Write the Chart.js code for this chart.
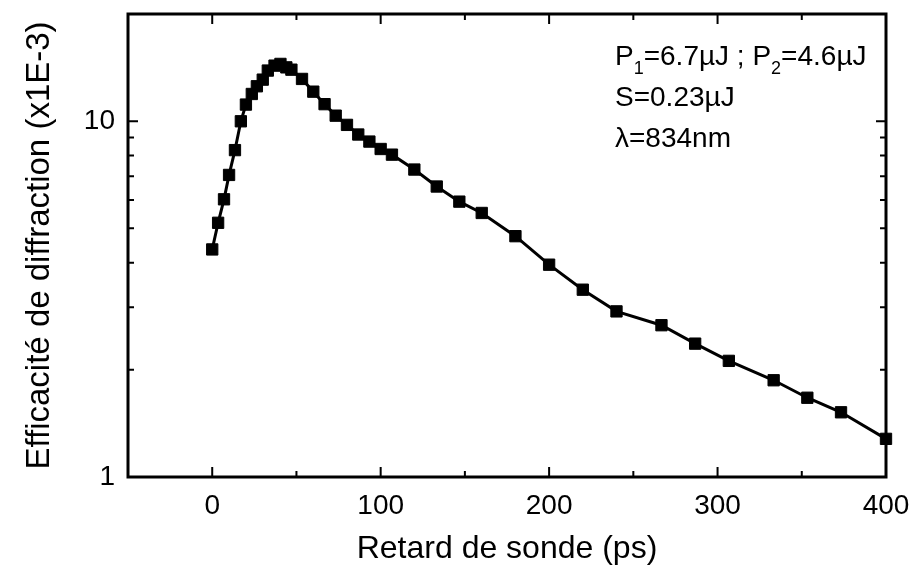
<!DOCTYPE html>
<html>
<head>
<meta charset="utf-8">
<script src="https://cdn.jsdelivr.net/npm/chart.js@4.4.0/dist/chart.umd.min.js"></script>
<style>
  html, body { margin: 0; padding: 0; background: #fff; }
  canvas { display: block; }
</style>
</head>
<body>
<canvas id="diffChart" width="909" height="577"></canvas>
<script>
// probe delay (ps) and diffraction efficiency (x1E-3)
const delays = [0, 3.5, 7, 10, 13.5, 17, 20, 23.5, 26.5, 30, 33, 37, 40.5, 44, 47,
  53.3, 60, 66.7, 73.3, 80, 86.7, 93.3, 100, 106.7, 120, 133.3, 146.7, 160,
  180, 200, 220, 240, 266.7, 286.7, 306.7, 333.3, 353.3, 373.3, 400];
const efficiency = [4.36, 5.18, 6.03, 7.06, 8.29, 9.99, 11.13, 11.92, 12.53, 13.08, 13.87, 14.32, 14.48, 14.16, 13.95,
  13.14, 12.10, 11.16, 10.36, 9.76, 9.17, 8.76, 8.35, 8.05, 7.31, 6.55, 5.94, 5.52,
  4.75, 3.95, 3.36, 2.92, 2.67, 2.37, 2.12, 1.87, 1.67, 1.52, 1.28];

const xTicks = [0, 100, 200, 300, 400];
const xMinorTicks = [50, 150, 250, 350];
const yTicks = [1, 10];
const yMinorTicks = [2, 3, 4, 5, 6, 7, 8, 9];

const infoLines = [
  [["P"], ["1", true], ["=6.7µJ ; P"], ["2", true], ["=4.6µJ"]],
  [["S=0.23µJ"]],
  [["λ=834nm"]]
];

const FONT = "'Liberation Sans', Arial, Helvetica, sans-serif";

// box with inward ticks on all four sides + the parameter text
const framePlugin = {
  id: "frame",
  beforeDatasetsDraw(chart) {
    const { ctx, chartArea: a, scales: { x, y } } = chart;
    ctx.save();
    ctx.strokeStyle = "#000";
    ctx.lineWidth = 2;
    ctx.beginPath();
    const tx = (v, len) => {
      const p = x.getPixelForValue(v);
      ctx.moveTo(p, a.bottom); ctx.lineTo(p, a.bottom - len);
      ctx.moveTo(p, a.top); ctx.lineTo(p, a.top + len);
    };
    const ty = (v, len) => {
      const p = y.getPixelForValue(v);
      ctx.moveTo(a.left, p); ctx.lineTo(a.left + len, p);
      ctx.moveTo(a.right, p); ctx.lineTo(a.right - len, p);
    };
    xTicks.forEach(v => tx(v, 10));
    xMinorTicks.forEach(v => tx(v, 6));
    yTicks.forEach(v => ty(v, 10));
    yMinorTicks.forEach(v => ty(v, 6));
    ctx.stroke();
    ctx.lineWidth = 3;
    ctx.strokeRect(a.left, a.top, a.right - a.left, a.bottom - a.top);

    ctx.fillStyle = "#000";
    ctx.textBaseline = "alphabetic";
    ctx.textAlign = "left";
    infoLines.forEach((line, i) => {
      let px = 615;
      const base = 65 + i * 41;
      line.forEach(([t, sub]) => {
        ctx.font = (sub ? "18px " : "28px ") + FONT;
        ctx.fillText(t, px, sub ? base + 9 : base);
        px += ctx.measureText(t).width;
      });
    });
    ctx.restore();
  }
};

new Chart(document.getElementById("diffChart"), {
  type: "line",
  data: {
    datasets: [{
      label: "Efficacité",
      data: delays.map((d, i) => ({ x: d, y: efficiency[i] })),
      borderColor: "#000",
      backgroundColor: "#000",
      borderWidth: 3,
      tension: 0,
      pointStyle: "rect",
      pointRadius: 8,
      pointBorderWidth: 1,
      clip: false
    }]
  },
  options: {
    responsive: false,
    animation: false,
    events: [],
    layout: { padding: { top: 14, right: 23, left: 0, bottom: 0 } },
    plugins: { legend: { display: false }, tooltip: { enabled: false } },
    scales: {
      x: {
        type: "linear",
        min: -50,
        max: 400,
        grid: { display: false, drawTicks: false },
        border: { display: false },
        afterBuildTicks: s => { s.ticks = xTicks.map(v => ({ value: v })); },
        afterFit: s => { s.height = 100; s.paddingLeft = 0; s.paddingRight = 0; },
        ticks: { color: "#000", padding: 12, maxRotation: 0, autoSkip: false, font: { family: FONT, size: 28 } },
        title: { display: true, text: "Retard de sonde (ps)", color: "#000", padding: { bottom: 9 }, font: { family: FONT, size: 32 } }
      },
      y: {
        type: "logarithmic",
        min: 1,
        max: 20,
        grid: { display: false, drawTicks: false },
        border: { display: false },
        afterBuildTicks: s => { s.ticks = yTicks.map(v => ({ value: v })); },
        afterFit: s => { s.width = 128; s.paddingTop = 0; s.paddingBottom = 0; },
        ticks: { color: "#000", padding: 13, autoSkip: false, callback: v => String(v), font: { family: FONT, size: 28 } },
        title: { display: true, text: "Efficacité de diffraction (x1E-3)", color: "#000", padding: { top: 20 }, font: { family: FONT, size: 33 } }
      }
    }
  },
  plugins: [framePlugin]
});
</script>
</body>
</html>
